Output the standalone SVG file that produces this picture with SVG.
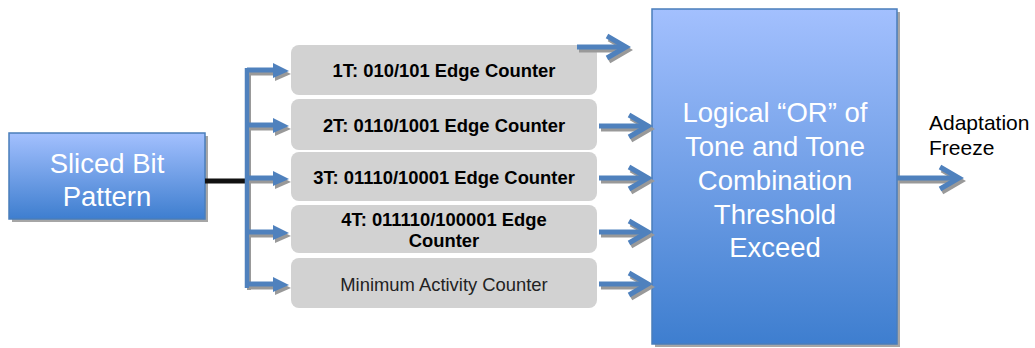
<svg xmlns="http://www.w3.org/2000/svg" width="1035" height="348" viewBox="0 0 1035 348">
<defs>
<linearGradient id="blue" x1="0" y1="0" x2="0" y2="1">
<stop offset="0" stop-color="#a3c0fe"/>
<stop offset="1" stop-color="#3e7ecf"/>
</linearGradient>
<style>
.box{fill:#d2d2d2;}
.t{font-family:"Liberation Sans",Arial,sans-serif;font-size:18.4px;font-weight:bold;fill:#000;text-anchor:middle;}
.tn{font-family:"Liberation Sans",Arial,sans-serif;font-size:18.4px;fill:#222;text-anchor:middle;}
.w{font-family:"Liberation Sans",Arial,sans-serif;font-size:27.5px;fill:#fff;text-anchor:middle;}
.lbl{font-family:"Liberation Sans",Arial,sans-serif;font-size:21px;fill:#000;}
.ln{stroke:#4f81bd;stroke-width:5;fill:none;}
.sh{stroke:#999;stroke-width:5;fill:none;}
.ch{stroke:#4f81bd;stroke-width:5;fill:none;stroke-linejoin:miter;}
.chs{stroke:#999;stroke-width:5;fill:none;}
</style>
</defs>
<g id="sliced">
<rect x="12" y="136" width="196" height="86" fill="#a6a6a6"/>
<rect x="9" y="133" width="196" height="86" fill="url(#blue)" stroke="#4a7ebb" stroke-width="1.5"/>
<text class="w" x="107" y="173">Sliced Bit</text>
<text class="w" x="107" y="206">Pattern</text>
</g>
<g id="or">
<rect x="655" y="12" width="245" height="335" fill="#a6a6a6"/>
<rect x="652" y="9" width="245" height="335" fill="url(#blue)" stroke="#4a7ebb" stroke-width="1.5"/>
<text class="w" x="775" y="122">Logical “OR” of</text>
<text class="w" x="775" y="156">Tone and Tone</text>
<text class="w" x="775" y="190">Combination</text>
<text class="w" x="775" y="224">Threshold</text>
<text class="w" x="775" y="257">Exceed</text>
</g>
<g id="c1"><rect class="box" x="291" y="45" width="306" height="50" rx="8"/><text class="t" x="444" y="77">1T: 010/101 Edge Counter</text></g>
<g id="c2"><rect class="box" x="291" y="99" width="306" height="51" rx="8"/><text class="t" x="444" y="132">2T: 0110/1001 Edge Counter</text></g>
<g id="c3"><rect class="box" x="291" y="152" width="306" height="49" rx="8"/><text class="t" x="444" y="184">3T: 01110/10001 Edge Counter</text></g>
<g id="c4"><rect class="box" x="291" y="205" width="306" height="48" rx="8"/><text class="t" x="444" y="226">4T: 011110/100001 Edge</text><text class="t" x="444" y="247">Counter</text></g>
<g id="c5"><rect class="box" x="291" y="258" width="306" height="50" rx="8"/><text class="tn" x="444" y="291">Minimum Activity Counter</text></g>
<g id="connectors">
<line x1="205" y1="181" x2="247" y2="181" stroke="#111" stroke-width="5"/>
<line x1="249" y1="70" x2="249" y2="290" stroke="#999" stroke-width="4"/>
<line x1="247" y1="68" x2="247" y2="288" stroke="#4f81bd" stroke-width="4.5"/>
<g>
<line class="sh" x1="249" y1="73" x2="276" y2="73"/><polygon points="275,66 291,74 275,81" fill="#999"/>
<line class="ln" x1="247" y1="70" x2="274" y2="70"/><polygon points="273,63 289,71 273,78" fill="#4f81bd"/>
</g>
<g>
<line class="sh" x1="249" y1="128" x2="276" y2="128"/><polygon points="275,121 291,129 275,136" fill="#999"/>
<line class="ln" x1="247" y1="125" x2="274" y2="125"/><polygon points="273,118 289,126 273,133" fill="#4f81bd"/>
</g>
<g>
<line class="sh" x1="249" y1="181" x2="276" y2="181"/><polygon points="275,174 291,182 275,189" fill="#999"/>
<line class="ln" x1="247" y1="178" x2="274" y2="178"/><polygon points="273,171 289,179 273,186" fill="#4f81bd"/>
</g>
<g>
<line class="sh" x1="249" y1="235" x2="276" y2="235"/><polygon points="275,228 291,236 275,243" fill="#999"/>
<line class="ln" x1="247" y1="232" x2="274" y2="232"/><polygon points="273,225 289,233 273,240" fill="#4f81bd"/>
</g>
<g>
<line class="sh" x1="249" y1="287" x2="276" y2="287"/><polygon points="275,280 291,288 275,295" fill="#999"/>
<line class="ln" x1="247" y1="284" x2="274" y2="284"/><polygon points="273,277 289,285 273,292" fill="#4f81bd"/>
</g>
<g>
<line class="sh" x1="579" y1="50" x2="624" y2="50"/><polyline class="chs" points="609,39 628,50 609,61"/>
<line class="ln" x1="577" y1="47" x2="622" y2="47"/><polyline class="ch" points="607,36 626,47 607,58"/>
</g>
<g>
<line class="sh" x1="601" y1="129" x2="646" y2="129"/><polyline class="chs" points="631,118 650,129 631,140"/>
<line class="ln" x1="599" y1="126" x2="644" y2="126"/><polyline class="ch" points="629,115 648,126 629,137"/>
</g>
<g>
<line class="sh" x1="601" y1="181" x2="646" y2="181"/><polyline class="chs" points="631,170 650,181 631,192"/>
<line class="ln" x1="599" y1="178" x2="644" y2="178"/><polyline class="ch" points="629,167 648,178 629,189"/>
</g>
<g>
<line class="sh" x1="601" y1="235" x2="646" y2="235"/><polyline class="chs" points="631,224 650,235 631,246"/>
<line class="ln" x1="599" y1="232" x2="644" y2="232"/><polyline class="ch" points="629,221 648,232 629,243"/>
</g>
<g>
<line class="sh" x1="601" y1="287" x2="646" y2="287"/><polyline class="chs" points="631,276 650,287 631,298"/>
<line class="ln" x1="599" y1="284" x2="644" y2="284"/><polyline class="ch" points="629,273 648,284 629,295"/>
</g>
<g>
<line class="sh" x1="899" y1="181" x2="957" y2="181"/><polyline class="chs" points="942,170 961,181 942,192"/>
<line class="ln" x1="897" y1="178" x2="955" y2="178"/><polyline class="ch" points="940,167 959,178 940,189"/>
</g>
</g>
<g id="label">
<text class="lbl" x="929" y="130">Adaptation</text>
<text class="lbl" x="929" y="155">Freeze</text>
</g>
</svg>
